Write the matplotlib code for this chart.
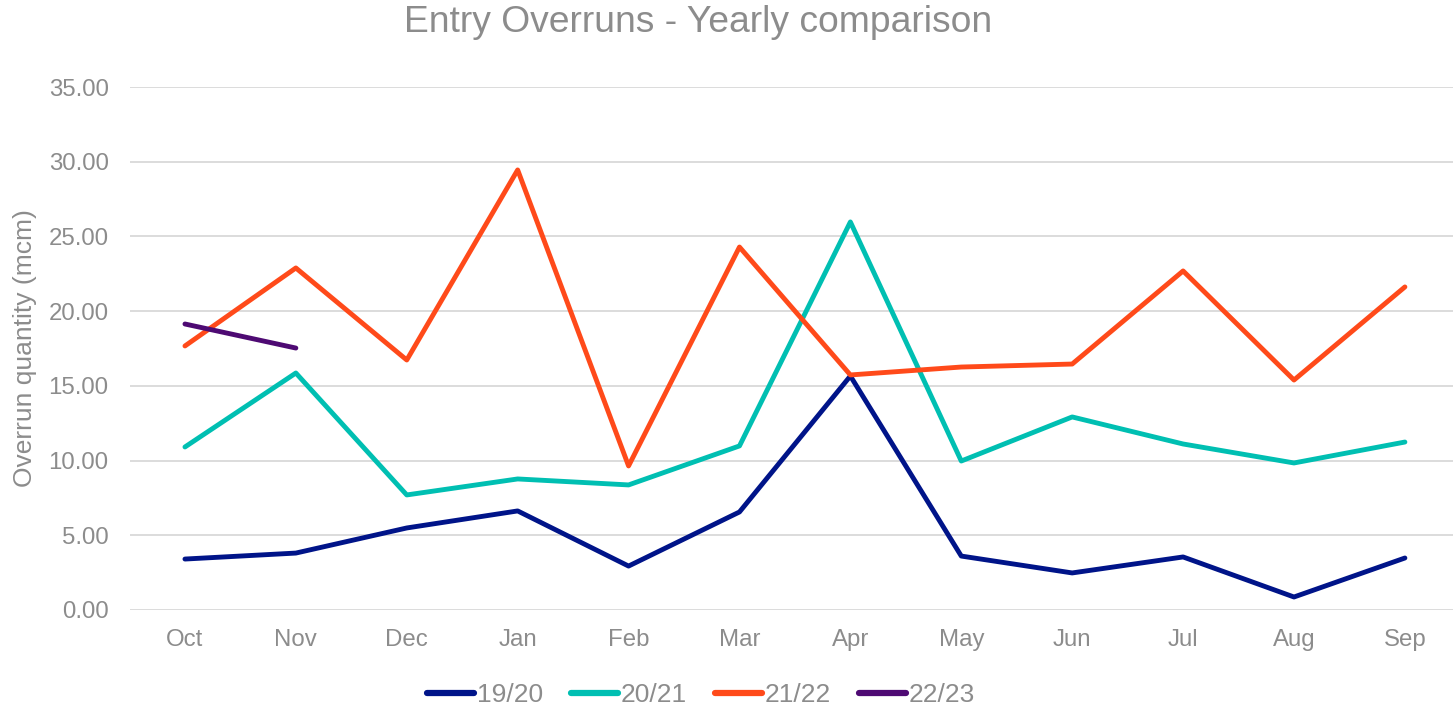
import matplotlib
matplotlib.use("Agg")
import matplotlib.pyplot as plt

months = ["Oct", "Nov", "Dec", "Jan", "Feb", "Mar", "Apr", "May", "Jun", "Jul", "Aug", "Sep"]
s1920 = [3.41, 3.81, 5.49, 6.63, 2.94, 6.56, 15.66, 3.61, 2.48, 3.55, 0.87, 3.48]
s2021 = [10.91, 15.86, 7.70, 8.77, 8.37, 10.98, 25.97, 9.97, 12.92, 11.11, 9.84, 11.24]
s2122 = [17.67, 22.89, 16.73, 29.45, 9.64, 24.29, 15.73, 16.26, 16.46, 22.69, 15.39, 21.62]
s2223 = [19.14, 17.53]
series_names = ["19/20", "20/21", "21/22", "22/23"]
colors = ["#001489", "#00BFB2", "#FF4A1A", "#4E0A73"]

plt.rcParams["font.family"] = ["Liberation Sans", "DejaVu Sans"]
grey = "#8C8C8C"

fig = plt.figure(figsize=(14.53, 7.06), dpi=100)
ax = fig.add_axes([129.5 / 1453, 1 - 610 / 706, 1 - 129.5 / 1453, (610 - 87) / 706])

x = list(range(len(months)))
for data, name, c in zip([s1920, s2021, s2122, s2223], series_names, colors):
    ax.plot(x[:len(data)], data, color=c, lw=3.5, label=name, solid_joinstyle="round", solid_capstyle="round")

ax.set_ylim(0, 35)
ax.set_xlim(-0.5, (1453 - 185) / 110.9)
ax.set_yticks([0, 5, 10, 15, 20, 25, 30, 35])
ax.set_yticklabels([f"{v:.2f}" for v in [0, 5, 10, 15, 20, 25, 30, 35]])
ax.set_xticks(x)
ax.set_xticklabels(months)
ax.tick_params(axis="both", length=0, labelsize=17.3, labelcolor=grey)
ax.tick_params(axis="y", pad=15)
ax.tick_params(axis="x", pad=14)
ax.grid(axis="y", color="#D9D9D9", lw=1.3)
ax.set_axisbelow(True)
for s in ax.spines.values():
    s.set_visible(False)

fig.text(25 / 1453, 1 - 348 / 706, "Overrun quantity (mcm)", rotation=90, ha="center", va="center",
         fontsize=19, color=grey)
fig.text(698 / 1453, 1 - 22 / 706, "Entry Overruns - Yearly comparison", ha="center", va="center",
         fontsize=26.8, color=grey)

leg = fig.legend(loc="center", bbox_to_anchor=(701 / 1453, 1 - 695 / 706), ncol=4, frameon=False,
                 fontsize=19, handlelength=1.8, handletextpad=0.1, columnspacing=1.05, labelcolor=grey)
for h in leg.get_lines():
    h.set_linewidth(4.5)

fig.savefig("out.png", dpi=100)
